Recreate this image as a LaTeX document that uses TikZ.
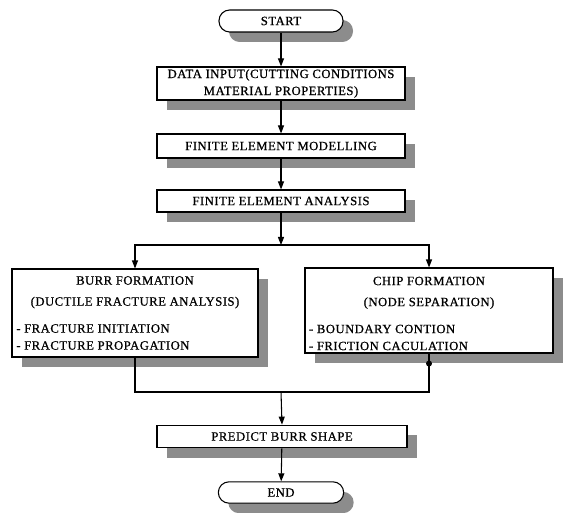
\documentclass[tikz,border=0pt]{standalone}
\usepackage{fontspec}
\setmainfont{Liberation Serif}[LetterSpace=4,FakeBold=0.8]
\usetikzlibrary{arrows.meta,shadows}

\begin{document}
\begin{tikzpicture}[x=0.75pt,y=-0.75pt,font=\fontsize{9.5}{12.75}\selectfont,
	box/.style={draw,line width=0.8pt,fill=white,inner sep=0pt,
		drop shadow={shadow xshift=7.5pt,shadow yshift=-7.5pt,fill=black!45,opacity=1}},
	term/.style={box,rounded corners=8pt},
	>={Triangle[length=6pt,width=4.5pt]}]
	\useasboundingbox (0,0) rectangle (567,513);
	% boxes
	\node[term,minimum width=93pt,minimum height=16.5pt] (start) at (281,21) {START};
	\node[box,minimum width=186pt,minimum height=24.75pt,align=center] (input) at (281,83.5)
		{DATA INPUT(CUTTING CONDITIONS\\MATERIAL PROPERTIES)};
	\node[box,minimum width=186pt,minimum height=18pt] (model) at (281,146) {FINITE ELEMENT MODELLING};
	\node[box,minimum width=186pt,minimum height=16.5pt] (anal) at (281,201) {FINITE ELEMENT ANALYSIS};
	\node[box,minimum width=184.5pt,minimum height=66pt] (burr) at (135,313)
		{\parbox{178pt}{\centering BURR FORMATION\\[3pt](DUCTILE FRACTURE ANALYSIS)\par\vspace{7.5pt}
		\raggedright - FRACTURE INITIATION\\- FRACTURE PROPAGATION}};
	\node[box,minimum width=186pt,minimum height=63.75pt] (chip) at (429,310.5)
		{\parbox{180pt}{\centering CHIP FORMATION\\[3pt](NODE SEPARATION)\par\vspace{7.5pt}
		\raggedright - BOUNDARY CONTION\\- FRICTION CACULATION\par\vspace{-4.5pt}}};
	\node[box,minimum width=187.5pt,minimum height=17pt] (shape) at (282,436.5) {PREDICT BURR SHAPE};
	\node[term,minimum width=94pt,minimum height=16pt] (end) at (281,492.5) {END};
	%
	\coordinate (split) at (281,245);
	\coordinate (join) at (281,392);
	\coordinate (tap) at ([yshift=-7.5pt]chip.south);
	%
	\begin{scope}[line width=0.8pt]
		% main line
		\draw[->] (start) -- (input);
		\draw[->] (input) -- (model);
		\draw[->] (model) -- (anal);
		\draw[->] (anal) -- (split);
		% branches
		\draw[->] (split) -| (burr.north);
		\draw[->] (split) -| (chip.north);
		\draw (burr.south) |- (join);
		\draw (chip.south) |- (join);
		\fill (tap) circle (3);
		\draw[->] (join) -- (shape.north);
		\draw[->] (shape) -- (end);
	\end{scope}
\end{tikzpicture}
\end{document}
